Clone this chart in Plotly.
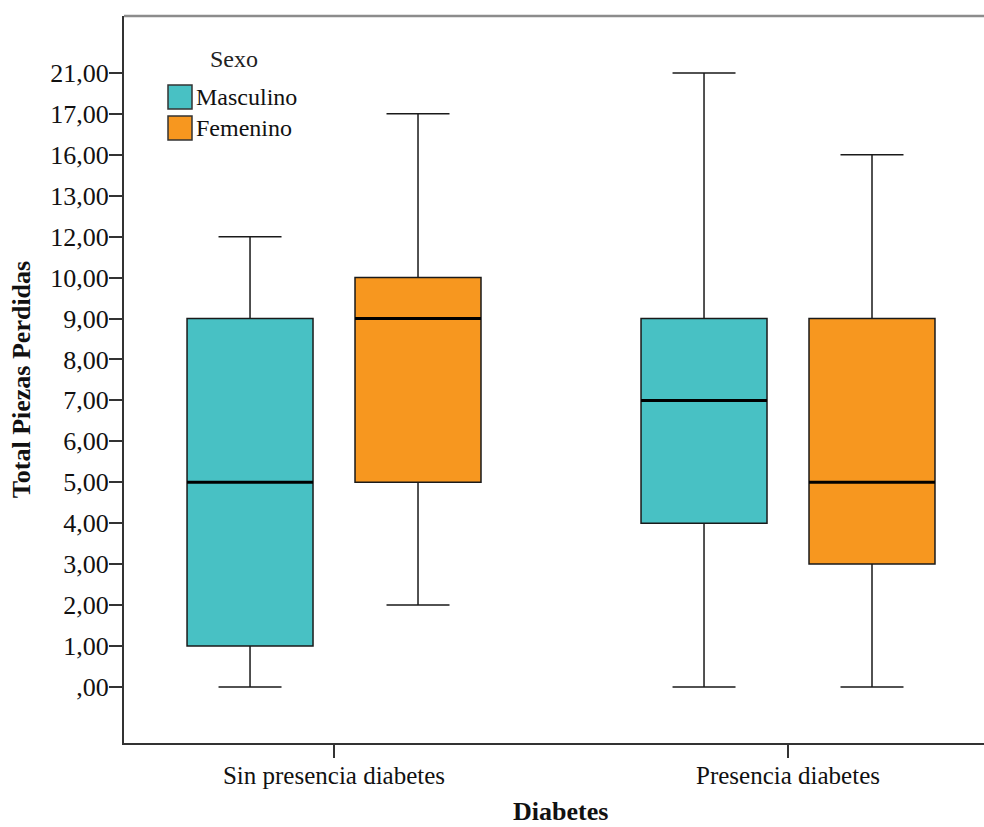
import plotly.graph_objects as go

# Diabetes groups and the ordinal y scale used by the chart
categories = ["Sin presencia diabetes", "Presencia diabetes"]
scale_values = [0, 1, 2, 3, 4, 5, 6, 7, 8, 9, 10, 12, 13, 16, 17, 21]
scale_labels = [",00", "1,00", "2,00", "3,00", "4,00", "5,00", "6,00", "7,00",
                "8,00", "9,00", "10,00", "12,00", "13,00", "16,00", "17,00", "21,00"]

# Five-number summaries per sex (min, Q1, median, Q3, max) for each group
masc_min = [0, 0]
masc_q1 = [1, 4]
masc_med = [5, 7]
masc_q3 = [9, 9]
masc_max = [12, 21]

fem_min = [2, 0]
fem_q1 = [5, 3]
fem_med = [9, 5]
fem_q3 = [10, 9]
fem_max = [17, 16]

TEAL = "#48C1C4"
ORANGE = "#F7971F"
FONT = "Liberation Serif"

# plot area in pixels (used for legend placement)
L, R, T, B = 124, 984, 16, 743
W_PX, H_PX = R - L, B - T


def rank(vals):
    return [scale_values.index(v) for v in vals]


BOX_W = 0.2775
OFFSET = 0.185

series = [
    ("Masculino", TEAL, -OFFSET, masc_min, masc_q1, masc_med, masc_q3, masc_max),
    ("Femenino", ORANGE, OFFSET, fem_min, fem_q1, fem_med, fem_q3, fem_max),
]

fig = go.Figure()
for name, color, off, mn, q1, med, q3, mx in series:
    xs = [i + off for i in range(len(categories))]
    fig.add_trace(go.Box(
        name=name, x=xs,
        lowerfence=rank(mn), q1=rank(q1), median=rank(med), q3=rank(q3), upperfence=rank(mx),
        width=BOX_W, whiskerwidth=0.5,
        fillcolor=color, line=dict(color="#1a1a1a", width=1.5),
        showlegend=False, hoverinfo="skip",
    ))
    # heavier median line on top of each box
    mx_line, my_line = [], []
    for x, m in zip(xs, rank(med)):
        mx_line += [x - BOX_W / 2, x + BOX_W / 2, None]
        my_line += [m, m, None]
    fig.add_trace(go.Scatter(x=mx_line, y=my_line, mode="lines",
                             line=dict(color="black", width=3),
                             showlegend=False, hoverinfo="skip"))


def px_x(px):
    return (px - L) / W_PX


def px_y(py):
    return (B - py) / H_PX


shapes = [
    # top frame line
    dict(type="line", xref="paper", yref="paper", x0=0, x1=1, y0=1, y1=1,
         line=dict(color="#8c8c8c", width=2.5)),
]
annotations = [
    dict(text="Sexo", xref="paper", yref="paper", x=px_x(234), y=px_y(59),
         xanchor="center", yanchor="middle",
         showarrow=False, font=dict(family=FONT, size=24, color="#222")),
    # x-axis title
    dict(text="<b>Diabetes</b>", xref="paper", yref="paper", x=px_x(560), y=px_y(812),
         xanchor="center", yanchor="middle", borderpad=0,
         showarrow=False, font=dict(family=FONT, size=26, color="#111")),
]
legend_items = [("Masculino", TEAL, 85), ("Femenino", ORANGE, 116)]
for label, color, top in legend_items:
    shapes.append(dict(type="rect", xref="paper", yref="paper",
                       x0=px_x(168), x1=px_x(192), y0=px_y(top + 24), y1=px_y(top),
                       fillcolor=color, line=dict(color="#333", width=1.5)))
    annotations.append(dict(text=label, xref="paper", yref="paper",
                            x=px_x(194), y=px_y(top + 12), xanchor="left", yanchor="middle",
                            showarrow=False, font=dict(family=FONT, size=24, color="#111")))

fig.update_layout(
    width=984, height=827,
    margin=dict(l=L, r=984 - R, t=T, b=827 - B),
    paper_bgcolor="white", plot_bgcolor="white",
    font=dict(family=FONT, size=24, color="#111"),
    shapes=shapes, annotations=annotations,
    xaxis=dict(
        range=[-0.4626, 1.4317], tickvals=list(range(len(categories))), ticktext=categories,
        showgrid=False, zeroline=False, showline=True, linecolor="#333", linewidth=2,
        ticks="outside", ticklen=13, tickwidth=2, tickcolor="#333",
        ticklabelstandoff=-4, automargin=False,
        tickfont=dict(family=FONT, size=25, color="#111"),
    ),
    yaxis=dict(
        range=[-1.37, 16.39], tickvals=list(range(len(scale_values))), ticktext=scale_labels,
        showgrid=False, zeroline=False, showline=True, linecolor="#333", linewidth=2,
        ticks="outside", ticklen=13, tickwidth=2, tickcolor="#333",
        ticklabelstandoff=-5, automargin=False,
        tickfont=dict(family=FONT, size=26, color="#111"),
        title=dict(text="<b>Total Piezas Perdidas</b>", standoff=12,
                   font=dict(family=FONT, size=26, color="#111")),
    ),
)

fig.write_html("out.html")
